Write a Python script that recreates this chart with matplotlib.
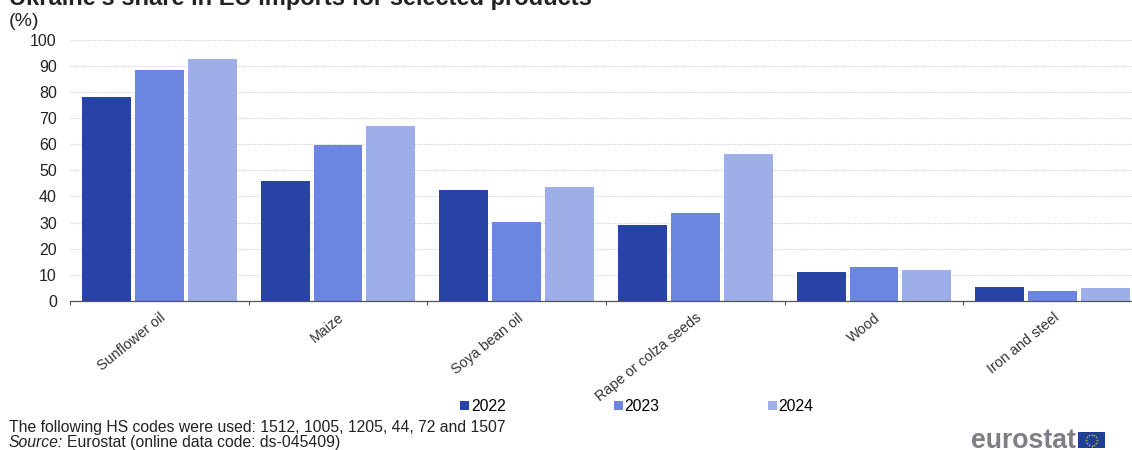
import numpy as np
import matplotlib
matplotlib.use("Agg")
import matplotlib.pyplot as plt

plt.rcParams['font.family'] = ['Liberation Sans', 'DejaVu Sans']

# share of Ukraine in EU imports, %
products = ["Sunflower oil", "Maize", "Soya bean oil", "Rape or colza seeds", "Wood", "Iron and steel"]
years = ["2022", "2023", "2024"]
share_2022 = [78, 46, 42.5, 29, 11, 5.2]
share_2023 = [88.5, 59.7, 30.2, 33.7, 13, 4]
share_2024 = [92.5, 67, 43.5, 56.2, 12, 5]
colors = ["#2743A6", "#6B86E0", "#9DAEE9"]
yticks = list(range(0, 101, 10))

W, H = 1132, 450
fig = plt.figure(figsize=(W / 100, H / 100), dpi=100)

# axis runs a little past the right edge of the figure
ax = fig.add_axes([70 / W, 1 - 301 / H, 1072 / W, 261.5 / H])
x = np.arange(len(products))
for i, vals in enumerate([share_2022, share_2023, share_2024]):
    ax.bar(x + (i - 1) * 0.2965, vals, width=0.274, color=colors[i], zorder=3, label=years[i])

ax.set_xlim(-0.5, 5.5)
ax.set_ylim(0, 100)
ax.set_yticks(yticks)
ax.tick_params(axis='y', length=0, labelsize=11.5, pad=9.5, labelcolor="#222222")
ax.grid(axis='y', color="#d2d2d2", linestyle=(0, (1, 1)), linewidth=0.8, zorder=0)

ax.set_xticks(x)
ax.set_xticklabels(products, rotation=39, ha='right', rotation_mode='anchor', fontsize=10.4, color="#333333")
ax.tick_params(axis='x', which='major', length=0, pad=7)
ax.set_xticks(np.arange(-0.5, 6), minor=True)
ax.tick_params(axis='x', which='minor', length=3, color="#555555", width=0.8)

for s in ['top', 'right', 'left']:
    ax.spines[s].set_visible(False)
ax.spines['bottom'].set_color("#555555")
ax.spines['bottom'].set_linewidth(0.9)
ax.spines['bottom'].set_zorder(4)

# title sits partly above the top edge
fig.text(9 / W, 1 - 5 / H, "Ukraine's share in EU imports for selected products",
         fontsize=17, fontweight='bold', color="#222222", va='baseline')
fig.text(9 / W, 1 - 26 / H, "(%)", fontsize=14, color="#222222", va='baseline')

# legend
fig.legend(loc='center left', bbox_to_anchor=(460 / W, 1 - 406.5 / H), ncol=3, frameon=False,
           fontsize=11.3, handlelength=0.58, handleheight=0.58, handletextpad=0.12,
           columnspacing=6.88, borderpad=0, borderaxespad=0)

# footer
fig.text(9 / W, 1 - 432 / H, "The following HS codes were used: 1512, 1005, 1205, 44, 72 and 1507",
         fontsize=11.3, color="#222222", va='baseline')
fig.text(9 / W, 1 - 447 / H, "Source:", fontsize=11.3, style='italic', color="#222222", va='baseline')
fig.text(67 / W, 1 - 447 / H, "Eurostat (online data code: ds-045409)", fontsize=11.3, color="#222222", va='baseline')

# eurostat logo
fig.text(971 / W, 1 - 448 / H, "eurostat", fontsize=19.2, fontweight='bold', color="#7c7f85", va='baseline')
flag_ax = fig.add_axes([1078 / W, 1 - 448 / H, 27 / W, 16 / H])
flag_ax.set_xticks([])
flag_ax.set_yticks([])
flag_ax.set_facecolor("#1f3f94")
for s in flag_ax.spines.values():
    s.set_visible(False)
flag_ax.set_xlim(-13.5, 13.5)
flag_ax.set_ylim(-8, 8)
angles = np.arange(12) * np.pi / 6
flag_ax.scatter(5.5 * np.cos(angles), 5.5 * np.sin(angles), s=1.5, color="#c9b03a", linewidths=0)

fig.savefig("out.png", dpi=100)
